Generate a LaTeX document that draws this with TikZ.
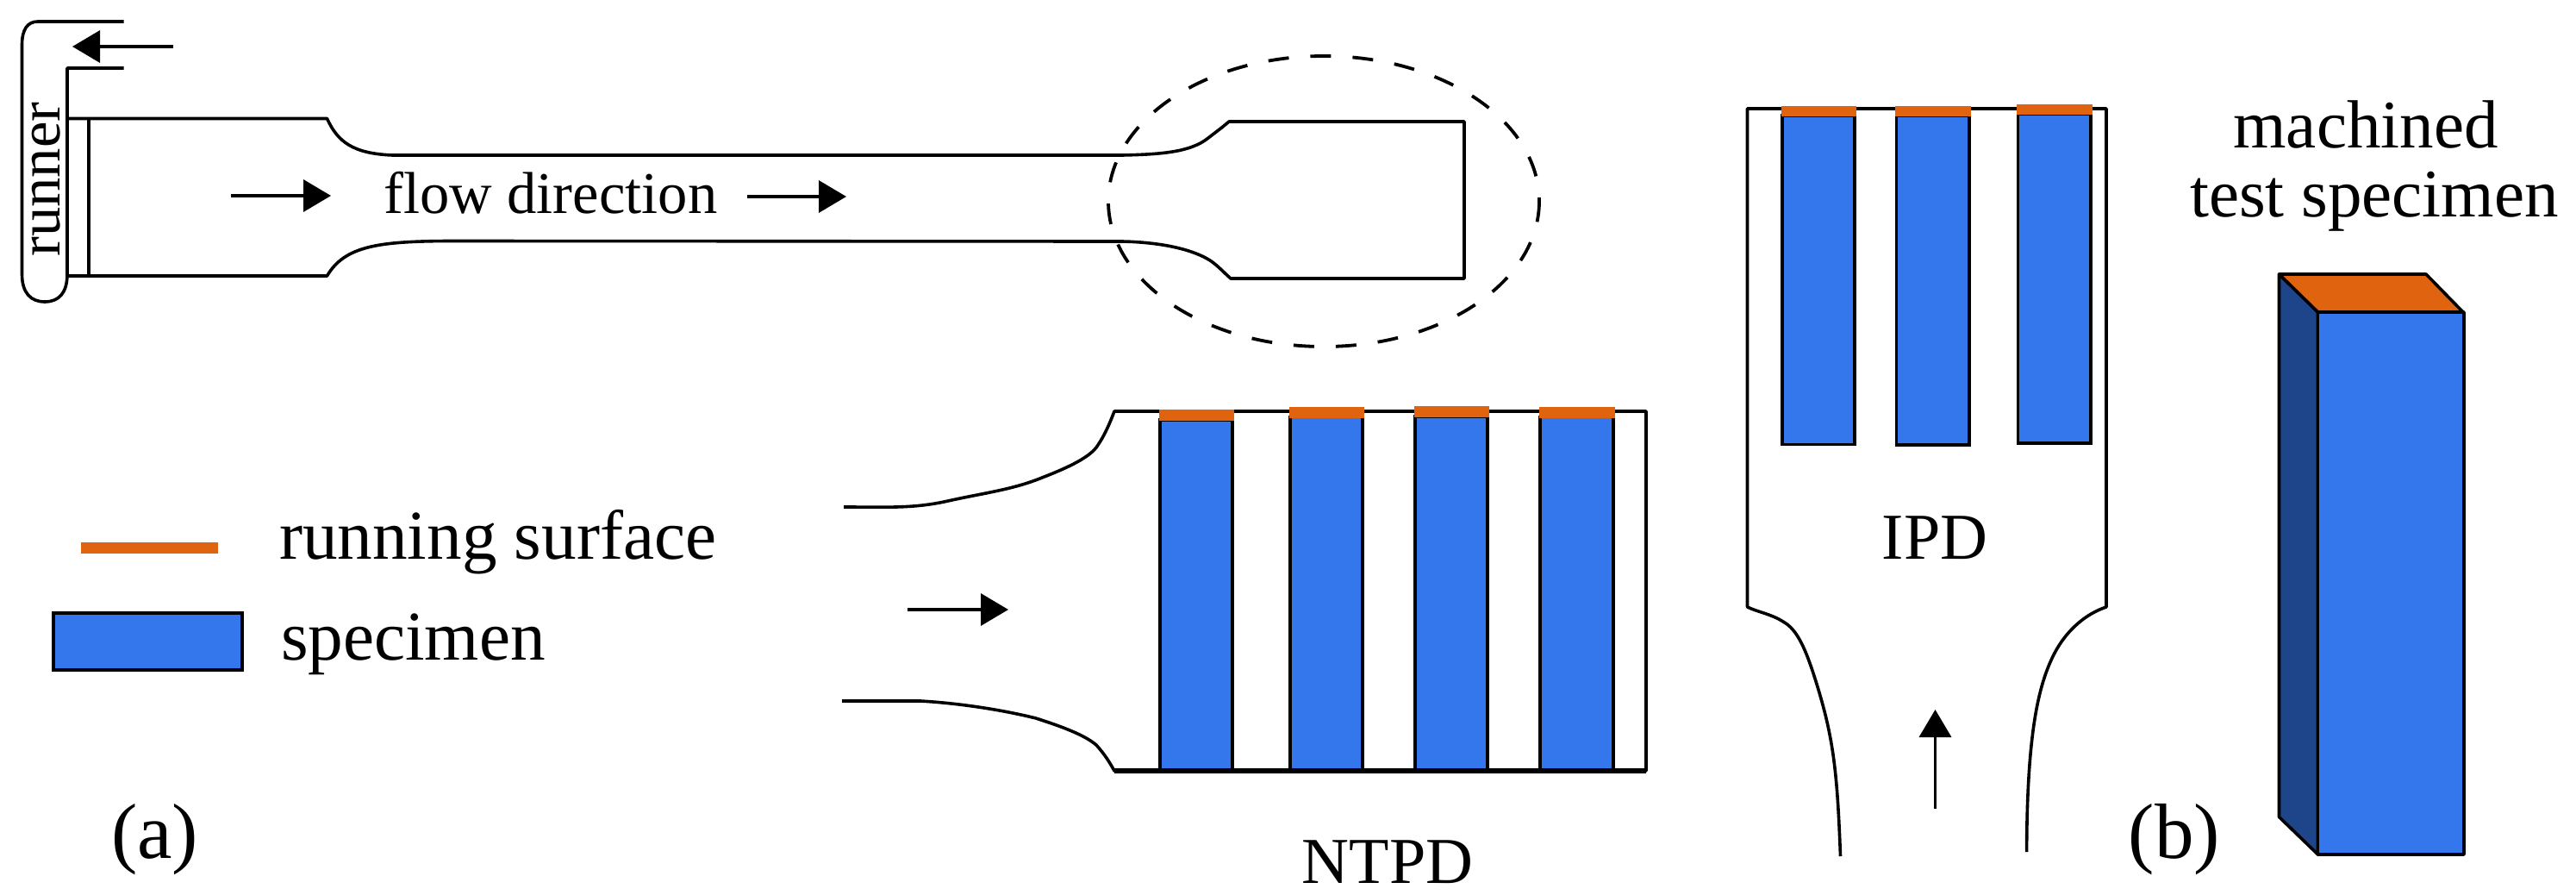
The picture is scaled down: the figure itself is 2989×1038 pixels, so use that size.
\documentclass[tikz,border=0pt]{standalone}
\usepackage{fontspec}
\setmainfont{Liberation Serif}
\usetikzlibrary{arrows.meta}
\definecolor{specblue}{HTML}{3476EB}
\definecolor{surforange}{HTML}{E0640F}
\definecolor{sideblue}{HTML}{1E458A}
\tikzset{
  outline/.style={line width=1.8pt,black,line join=round},
  specbar/.style={fill=specblue,draw=black,line width=1.8pt},
  surfbar/.style={fill=surforange,draw=none},
  flowarrow/.style={line width=1.8pt,-{Triangle[length=16pt,width=18.5pt]},shorten >=0pt},
  lab/.style={inner sep=0pt,outer sep=0pt,text=black},
  sizeA/.style={font=\fontsize{34.3}{36}\selectfont},
  sizeB/.style={font=\fontsize{39.5}{44}\selectfont},
  sizeL/.style={font=\fontsize{40.6}{44}\selectfont},
  sizeC/.style={font=\fontsize{38}{44}\selectfont},
  sizeD/.style={font=\fontsize{45.5}{50}\selectfont},
}
\begin{document}
\begin{tikzpicture}[x=0.5pt,y=-0.5pt]
\useasboundingbox[fill=white] (0,0) rectangle (2989,1038);

% --- dog-bone with runner
\draw[outline] (143.5,25) -- (44,25) .. controls (32,25) and (25.5,34) .. (25.5,52)
  -- (25.5,318) .. controls (25.5,340) and (36,350) .. (52,350)
  .. controls (68,350) and (78,340) .. (78,318) -- (78,79) -- (143.5,79);
\draw[outline] (78,137.5) -- (379.5,137.5) .. controls (392,165) and (410,178) .. (455,180)
  -- (1302,180) .. controls (1350,179) and (1382,176) .. (1402,160)
  .. controls (1411,153) and (1418,148) .. (1426,141)
  -- (1699,141) -- (1699,323) -- (1428,323)
  .. controls (1420,316) and (1413,308) .. (1404,302)
  .. controls (1385,290) and (1350,281) .. (1302,280)
  -- (520,279.5) .. controls (440,280) and (400,285) .. (379.5,320) -- (78,320);
\draw[outline] (103,137.5) -- (103,320);
\draw[line width=1.9pt,dash pattern=on 12pt off 12.5pt] (1536,233.5) ellipse [x radius=250,y radius=168.5];

\coordinate (ra) at (201,54);  \coordinate (rb) at (84,54);
\coordinate (fa) at (268,227); \coordinate (fb) at (384,227);
\coordinate (ga) at (867,228); \coordinate (gb) at (982,228);
\draw[flowarrow] (ra) -- (rb);
\draw[flowarrow] (fa) -- (fb);
\draw[flowarrow] (ga) -- (gb);
\node[lab,sizeA,anchor=base] (flow) at (639,248) {flow direction};
\node[lab,sizeA,anchor=base,rotate=90] (runner) at (69,208) {runner};

% --- legend
\fill[surfbar] (93.6,629) rectangle (252.6,642);
\draw[specbar,line width=2.2pt] (62,711) rectangle (281,777);
\node[lab,sizeL,anchor=base west] (lgA) at (324,648) {running surface};
\node[lab,sizeL,anchor=base west] (lgB) at (326,765) {specimen};
\node[lab,sizeD,anchor=base] (pa) at (179.5,995) {(a)};

% --- NTPD
\draw[outline] (979,588) .. controls (1030,588) and (1060,590) .. (1100,581)
  .. controls (1140,572) and (1175,568) .. (1209,554)
  .. controls (1235,544) and (1262,532) .. (1272,519)
  .. controls (1282,505) and (1288,490) .. (1293,477)
  -- (1910,477) -- (1910,894) -- (1293,894)
  .. controls (1288,885) and (1282,875) .. (1272,864)
  .. controls (1258,852) and (1230,842) .. (1202,833)
  .. controls (1170,825) and (1120,816) .. (1068,813) -- (977,813);
\foreach \xa/\xb/\ya/\yb in {1346/1430/475/487,1497/1581/472/483.5,1642/1726/471/483,1787/1872/472/483.5}{
  \draw[specbar] (\xa,\yb) rectangle (\xb,894);
  \fill[surfbar] (\xa-1.5,\ya) rectangle (\xb+1.5,\yb+1);
}
\draw[line width=2.8pt] (1293,894) -- (1910,894);
\coordinate (na) at (1053,707); \coordinate (nb) at (1170,707);
\draw[flowarrow] (na) -- (nb);
\node[lab,sizeC,anchor=base] (ntpd) at (1610,1024) {NTPD};

% --- IPD
\draw[outline] (2135.5,993) .. controls (2132,900) and (2128,860) .. (2110,800)
  .. controls (2095,750) and (2085,730) .. (2069,721)
  .. controls (2055,712) and (2040,710) .. (2027.5,704)
  -- (2027.5,126) -- (2444,126) -- (2444,704)
  .. controls (2420,712) and (2400,730) .. (2387,752)
  .. controls (2365,790) and (2352,850) .. (2351.6,988);
\foreach \xa/\xb/\ya/\yb/\yc in {2068/2152/123/134/515.5,2200.5/2285/123/134/516,2341.6/2426/121.5/132.5/514}{
  \draw[specbar] (\xa,\yb) rectangle (\xb,\yc);
  \fill[surfbar] (\xa-1.5,\ya) rectangle (\xb+1.5,\yb+1);
}
\coordinate (ia) at (2245.5,938); \coordinate (ib) at (2245.5,823);
\draw[flowarrow] (ia) -- (ib);
\node[lab,sizeC,anchor=base] (ipd) at (2245,648) {IPD};

% --- machined test specimen
\draw[outline,fill=sideblue] (2644.5,318) -- (2689.5,362) -- (2689.5,991) -- (2644.5,947.5) -- cycle;
\draw[outline,fill=surforange] (2644.5,318) -- (2815,318) -- (2858,362) -- (2689.5,362) -- cycle;
\draw[outline,fill=specblue] (2689.5,362) rectangle (2859,991);
\node[lab,sizeB,anchor=base] (mach) at (2745,171.6) {machined};
\node[lab,sizeB,anchor=base] (test) at (2755,251) {test specimen};
\node[lab,sizeD,anchor=base] (pb) at (2523,995) {(b)};
\end{tikzpicture}
\end{document}
